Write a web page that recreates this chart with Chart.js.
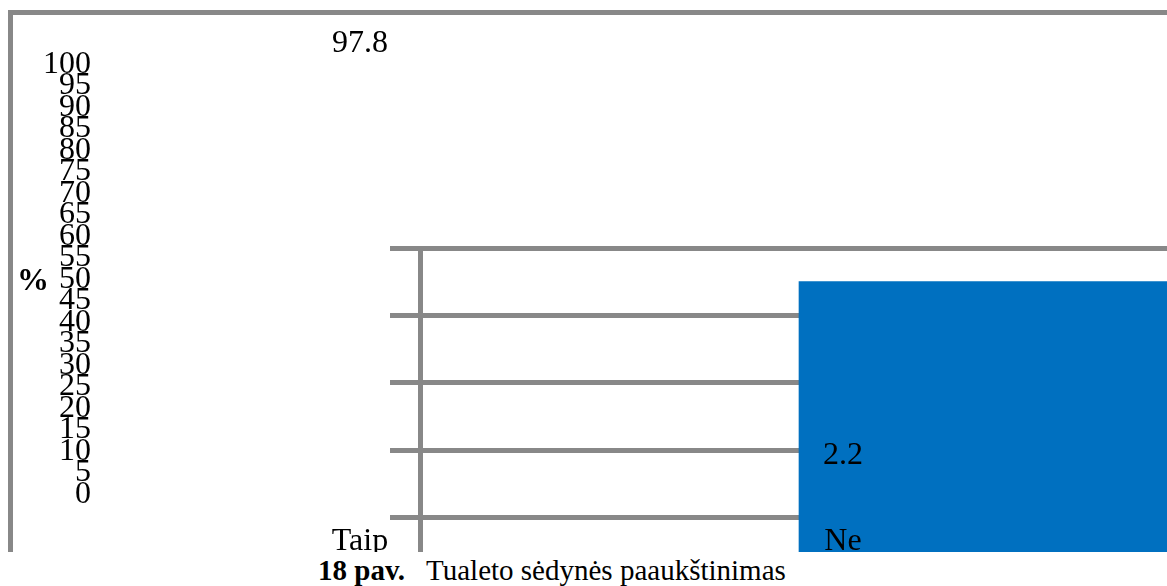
<!DOCTYPE html>
<html lang="lt">
<head>
<meta charset="utf-8">
<title>Tualeto sėdynės paaukštinimas</title>
<script src="https://cdn.jsdelivr.net/npm/chart.js@4.4.1/dist/chart.umd.min.js"></script>
<style>
  html, body { margin: 0; padding: 0; background: #fff; overflow: hidden; }
  body { width: 1167px; height: 586px; position: relative; font-family: 'Liberation Serif', 'Times New Roman', serif; }
  #frame { position: absolute; left: 0; top: 0; width: 1167px; height: 552px; overflow: hidden; }
  #border { position: absolute; left: 8px; top: 10px; width: 1200px; height: 600px; border-top: 5px solid #888; border-left: 5px solid #888; }
  #plotCanvas { position: absolute; left: 390px; top: 240px; }
  #axisCanvas { position: absolute; left: 0; top: 0; }
  #caption { position: absolute; left: 318px; top: 556px; font-size: 29px; line-height: 29px; white-space: nowrap; color: #000; }
  #caption span { padding-left: 21px; }
</style>
</head>
<body>
<div id="frame">
  <div id="border"></div>
  <canvas id="plotCanvas" width="788" height="412"></canvas>
  <canvas id="axisCanvas" width="1167" height="552"></canvas>
</div>
<div id="caption"><b>18 pav.</b><span>Tualeto sėdynės paaukštinimas</span></div>

<script>
// answers to the question, in percent
var categories = ['Taip', 'Ne'];
var percentValues = [97.8, 2.2];

// outer percent axis
var axisMin = 0;
var axisMax = 100;
var axisStep = 5;

// inner plot box axis
var innerMin = 0;
var innerMax = 2.4;
var innerStep = 0.4;

var serif = { family: "'Liberation Serif', 'Times New Roman', serif", size: 32 };
var gray = '#888';
var blue = '#0070C0';

// value labels above each bar plus the upright "%" unit label
var valueLabels = {
    id: 'valueLabels',
    afterDatasetsDraw: function (chart) {
        var ctx = chart.ctx;
        var meta = chart.getDatasetMeta(0);
        ctx.save();
        ctx.fillStyle = '#000';
        ctx.font = '32px "Liberation Serif"';
        ctx.textAlign = 'center';
        ctx.textBaseline = 'alphabetic';
        meta.data.forEach(function (bar, i) {
            ctx.fillText(String(percentValues[i]), bar.x, bar.y - 21.5);
        });
        var y = chart.scales.y;
        ctx.font = 'bold 32px "Liberation Serif"';
        ctx.textAlign = 'left';
        ctx.textBaseline = 'middle';
        ctx.fillText('%', 17, (y.top + y.bottom) / 2 + 2.5);
        ctx.restore();
    }
};

document.addEventListener("DOMContentLoaded", function () {
    // gray grid box with the blue bar
    new Chart(document.getElementById('plotCanvas').getContext('2d'), {
        type: 'bar',
        data: {
            labels: categories,
            datasets: [{
                data: percentValues,
                backgroundColor: ['rgba(0,0,0,0)', blue],
                borderWidth: 0,
                barPercentage: 1,
                categoryPercentage: 1
            }]
        },
        options: {
            responsive: false,
            animation: false,
            layout: { padding: { top: 8, right: 0, bottom: 0, left: 0 } },
            plugins: { legend: { display: false }, tooltip: { enabled: false } },
            scales: {
                x: { display: false },
                y: {
                    min: innerMin,
                    max: innerMax,
                    ticks: { stepSize: innerStep, display: false },
                    grid: { color: gray, lineWidth: 5, tickLength: 30, drawTicks: true },
                    border: { color: gray, width: 5 }
                }
            }
        }
    });

    // percent scale, category names and value labels
    new Chart(document.getElementById('axisCanvas').getContext('2d'), {
        type: 'bar',
        data: {
            labels: categories,
            datasets: [{
                data: percentValues,
                backgroundColor: 'rgba(0,0,0,0)',
                borderWidth: 0
            }]
        },
        options: {
            responsive: false,
            animation: false,
            layout: { padding: { top: 64.5, right: 82.5, bottom: 0, left: 0 } },
            plugins: { legend: { display: false }, tooltip: { enabled: false } },
            scales: {
                x: {
                    grid: { display: false, drawTicks: false },
                    border: { display: false },
                    ticks: { padding: 28, font: serif, color: '#000' },
                    afterFit: function (scale) { scale.height = 57.5; }
                },
                y: {
                    min: axisMin,
                    max: axisMax,
                    ticks: { stepSize: axisStep, autoSkip: false, padding: 27.5, font: serif, color: '#000' },
                    grid: { display: false, drawTicks: false },
                    border: { display: false },
                    afterFit: function (scale) { scale.width = 118.5; }
                }
            }
        },
        plugins: [valueLabels]
    });
});
</script>
</body>
</html>
